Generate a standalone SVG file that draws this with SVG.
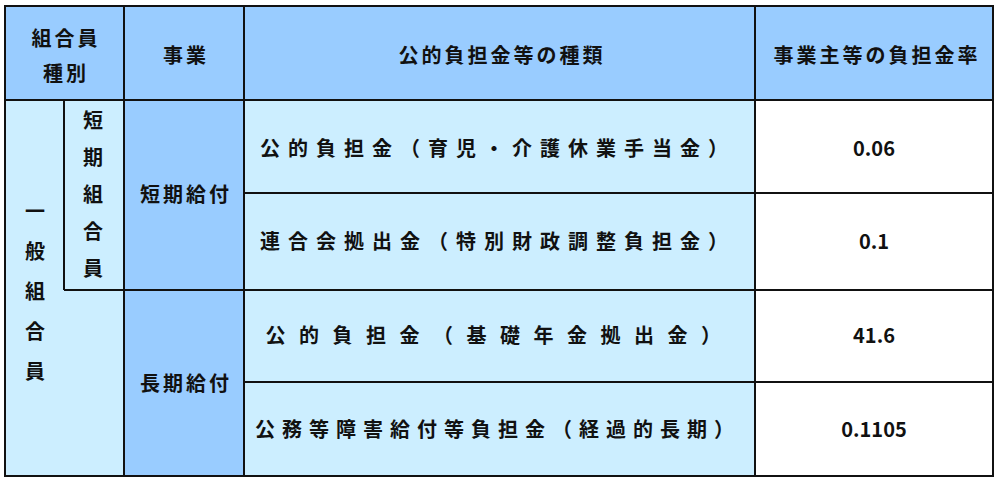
<svg xmlns="http://www.w3.org/2000/svg" width="1000" height="483" viewBox="0 0 1000 483">
<style>
text{font-family:"Noto Sans CJK JP","Noto Sans",sans-serif;font-weight:bold;font-size:20px;fill:#111;text-anchor:middle;dominant-baseline:central}
.l{stroke:#111;stroke-width:2;fill:none}
.h{fill:#99CCFF}.b{fill:#CCEEFF}.w{fill:#fff}
.hd{letter-spacing:3px}
</style>
<rect width="1000" height="483" fill="#fff"/>
<g id="header">
<rect class="h" x="5" y="6" width="988" height="94"/>
<text x="66" y="37" class="hd">組合員</text><text x="66" y="72" class="hd">種別</text>
<text x="186" y="54" class="hd">事業</text>
<text x="502" y="54" class="hd">公的負担金等の種類</text>
<text x="877" y="54" class="hd">事業主等の負担金率</text>
</g>
<g id="member">
<rect class="b" x="5" y="100" width="119" height="376"/>
<text x="35" y="210">一</text><text x="35" y="250">般</text><text x="35" y="290">組</text><text x="35" y="330">合</text><text x="35" y="370">員</text>
<text x="93" y="119">短</text><text x="93" y="156">期</text><text x="93" y="193">組</text><text x="93" y="230">合</text><text x="93" y="267">員</text>
</g>
<g id="business">
<rect class="h" x="124" y="100" width="120" height="376"/>
<text x="186" y="193" class="hd">短期給付</text>
<text x="186" y="382" class="hd">長期給付</text>
</g>
<g id="kinds">
<rect class="b" x="244" y="100" width="511" height="376"/>
<text x="498" y="147" style="letter-spacing:8px">公的負担金（育児・介護休業手当金）</text>
<text x="498" y="240" style="letter-spacing:8px">連合会拠出金（特別財政調整負担金）</text>
<text x="500" y="334" style="letter-spacing:13.5px">公的負担金（基礎年金拠出金）</text>
<text x="498" y="428" style="letter-spacing:7px">公務等障害給付等負担金（経過的長期）</text>
</g>
<g id="rates">
<rect class="w" x="755" y="100" width="238" height="376"/>
<text x="874" y="147">0.06</text><text x="874" y="240">0.1</text><text x="874" y="334">41.6</text><text x="874" y="428">0.1105</text>
</g>
<g id="lines" class="l">
<rect x="5" y="6" width="988" height="470"/>
<path d="M5 100H993M244 193H993M64 290H993M244 382H993M64 100V290M124 6V476M244 6V476M755 6V476"/>
</g>
</svg>
